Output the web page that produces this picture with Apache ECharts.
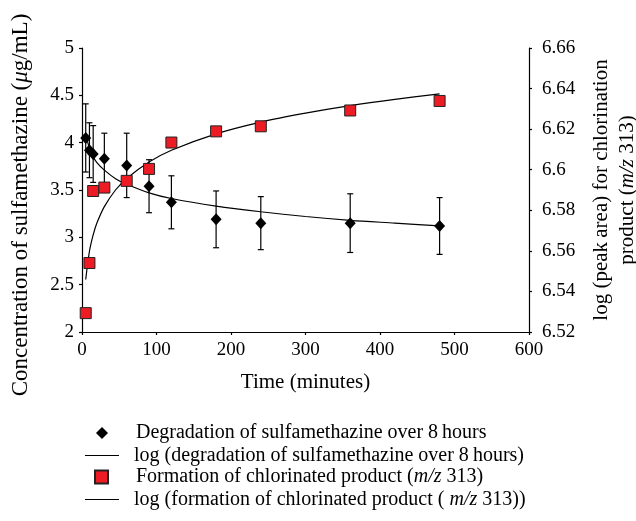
<!DOCTYPE html>
<html>
<head>
<meta charset="utf-8">
<script src="https://cdn.jsdelivr.net/npm/echarts@6/dist/echarts.min.js"></script>
<style>html,body{margin:0;padding:0;background:#fff;}#c{width:636px;height:521px;}</style>
</head>
<body>
<div id="c"></div>
<script>
// ---- data ----
const time = [5, 10, 15, 30, 60, 90, 120, 180, 240, 360, 480];
const sulfa = [4.05, 3.92, 3.88, 3.83, 3.76, 3.54, 3.37, 3.19, 3.15, 3.15, 3.12];
const sulfaErr = [0.36, 0.29, 0.30, 0.27, 0.34, 0.28, 0.28, 0.30, 0.28, 0.31, 0.30];
const chlor = [6.5293, 6.5540, 6.5895, 6.5912, 6.5945, 6.6004, 6.6134, 6.6189, 6.6214, 6.6292, 6.6339];
const fitTime = [5, 10, 15, 20, 30, 45, 60, 90, 120, 180, 240, 300, 360, 420, 480];
const sulfaFit = [4.09, 3.94, 3.85, 3.79, 3.71, 3.62, 3.56, 3.47, 3.41, 3.33, 3.27, 3.22, 3.18, 3.15, 3.12];
const chlorFit = [6.5459, 6.5598, 6.5679, 6.5737, 6.5818, 6.5900, 6.5957, 6.6038, 6.6096, 6.6177, 6.6235, 6.6279, 6.6316, 6.6347, 6.6374];
const seriesNames = ['deg', 'degFit', 'form', 'formFit'];
const legendLabels = [
  'Degradation of sulfamethazine over 8\u2009hours',
  'log (degradation of sulfamethazine over 8\u2009hours)',
  'Formation of chlorinated product ({i|m/z} 313)',
  'log (formation of chlorinated product ( {i|m/z} 313))'
];

const FONT = "'Liberation Serif', 'Times New Roman', serif";
const chart = echarts.init(document.getElementById('c'), null, {renderer: 'canvas'});

const zip = (a, b) => a.map((v, i) => [v, b[i]]);
const errData = time.map((t, i) => [t, sulfa[i] - sulfaErr[i], sulfa[i] + sulfaErr[i]]);

const axisLine = {show: true, lineStyle: {color: '#000', width: 1.2}};
const axisTick = {show: true, inside: false, length: 3, lineStyle: {color: '#000', width: 1.2}};
const labelStyle = {color: '#000', fontFamily: FONT, fontSize: 19};
const legendText = {color: '#000', fontFamily: FONT, fontSize: 20, lineHeight: 20,
  rich: {i: {fontStyle: 'italic', fontFamily: FONT, fontSize: 20, lineHeight: 20, color: '#000'}}};

function makeLegend(idx, opts) {
  return Object.assign({
    orient: 'vertical', padding: 0, selectedMode: false,
    data: [Object.assign({name: seriesNames[idx]}, opts.item || {})],
    formatter: name => legendLabels[seriesNames.indexOf(name)],
    textStyle: Object.assign({padding: [0, 0, 0, opts.pad]}, legendText)
  }, opts.box);
}

chart.setOption({
  animation: false,
  backgroundColor: '#fff',
  textStyle: {fontFamily: FONT, color: '#000'},
  grid: {left: 82, right: 107, top: 48, bottom: 189, containLabel: false, outerBoundsMode: 'none'},
  xAxis: {
    type: 'value', min: 0, max: 600, interval: 100,
    name: 'Time (minutes)', nameLocation: 'middle', nameGap: 40,
    nameTextStyle: {color: '#000', fontFamily: FONT, fontSize: 21},
    axisLine: axisLine, axisTick: axisTick,
    axisLabel: Object.assign({margin: 9}, labelStyle),
    splitLine: {show: false}
  },
  yAxis: [{
    type: 'value', min: 2, max: 5, interval: 0.5, position: 'left',
    name: 'Concentration of sulfamethazine ({i|\u03bc}g/mL)', nameLocation: 'middle', nameGap: 50,
    nameTextStyle: {color: '#000', fontFamily: FONT, fontSize: 23, padding: [0, 30, 0, 0],
      rich: {i: {fontStyle: 'italic', fontFamily: FONT, fontSize: 23, color: '#000'}}},
    axisLine: axisLine, axisTick: axisTick,
    axisLabel: Object.assign({margin: 8}, labelStyle),
    splitLine: {show: false}
  }, {
    type: 'value', min: 6.52, max: 6.66, interval: 0.02, position: 'right',
    name: 'log (peak\u2009area) for chlorination\nproduct ({i|m/z} 313)', nameLocation: 'middle', nameGap: 59,
    nameTextStyle: {color: '#000', fontFamily: FONT, fontSize: 21, lineHeight: 26,
      rich: {i: {fontStyle: 'italic', fontFamily: FONT, fontSize: 21, lineHeight: 26, color: '#000'}}},
    axisLine: axisLine, axisTick: axisTick,
    axisLabel: Object.assign({margin: 13}, labelStyle),
    splitLine: {show: false}
  }],
  legend: [
    makeLegend(0, {pad: 23, box: {left: 96, top: 423, itemWidth: 12, itemHeight: 12}}),
    makeLegend(1, {pad: 10, item: {icon: 'rect'}, box: {left: 85, top: 445.5, itemWidth: 34, itemHeight: 1}}),
    makeLegend(2, {pad: 23, box: {left: 94, top: 467, itemWidth: 13, itemHeight: 13}}),
    makeLegend(3, {pad: 10, item: {icon: 'rect'}, box: {left: 85, top: 489.5, itemWidth: 34, itemHeight: 1}})
  ],
  series: [{
    name: 'err', type: 'custom', yAxisIndex: 0, z: 1,
    data: errData,
    renderItem: function (params, api) {
      const x = api.value(0);
      const lo = api.coord([x, api.value(1)]);
      const hi = api.coord([x, api.value(2)]);
      const hw = 3;
      const st = {stroke: '#000', lineWidth: 1.2};
      return {type: 'group', children: [
        {type: 'line', shape: {x1: lo[0], y1: lo[1], x2: hi[0], y2: hi[1]}, style: st},
        {type: 'line', shape: {x1: hi[0] - hw, y1: hi[1], x2: hi[0] + hw, y2: hi[1]}, style: st},
        {type: 'line', shape: {x1: lo[0] - hw, y1: lo[1], x2: lo[0] + hw, y2: lo[1]}, style: st}
      ]};
    }
  }, {
    name: 'degFit', type: 'line', yAxisIndex: 0, z: 2,
    data: zip(fitTime, sulfaFit), smooth: 0.3, symbol: 'none',
    lineStyle: {color: '#000', width: 1.2}, itemStyle: {color: '#000'}
  }, {
    name: 'formFit', type: 'line', yAxisIndex: 1, z: 2,
    data: zip(fitTime, chlorFit), smooth: 0.3, symbol: 'none',
    lineStyle: {color: '#000', width: 1.2}, itemStyle: {color: '#000'}
  }, {
    name: 'deg', type: 'scatter', yAxisIndex: 0, z: 3,
    data: zip(time, sulfa), symbol: 'diamond', symbolSize: [11, 12],
    itemStyle: {color: '#000', opacity: 1}
  }, {
    name: 'form', type: 'scatter', yAxisIndex: 1, z: 4,
    data: zip(time, chlor), symbol: 'rect', symbolSize: 11,
    itemStyle: {color: '#ED1C24', borderColor: '#222', borderWidth: 1, opacity: 1}
  }]
});
</script>
</body>
</html>
